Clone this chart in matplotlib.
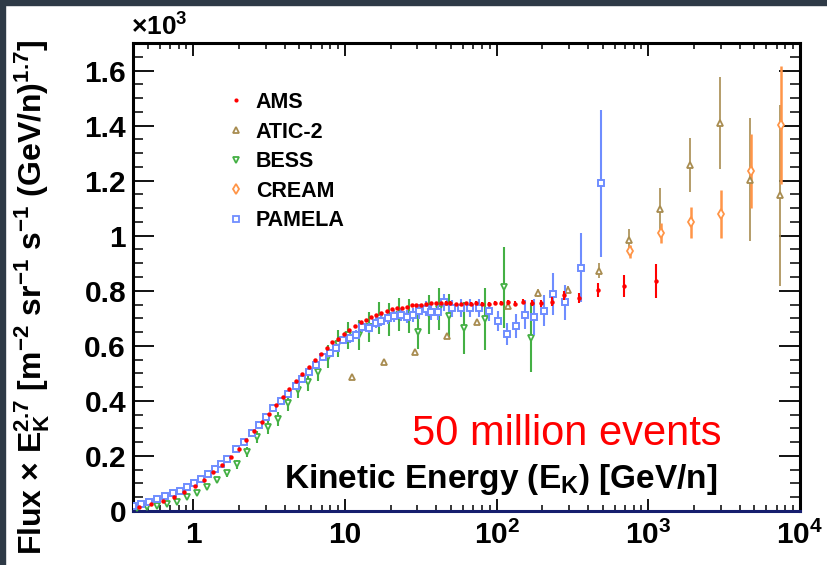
import numpy as np
import matplotlib
matplotlib.use("Agg")
import matplotlib.pyplot as plt
from matplotlib.lines import Line2D
from matplotlib.patches import Rectangle
from matplotlib.ticker import FixedLocator, LogLocator, MultipleLocator, NullFormatter

plt.rcParams['font.family'] = ['Liberation Sans', 'DejaVu Sans']
plt.rcParams['mathtext.fontset'] = 'custom'
plt.rcParams['mathtext.rm'] = 'Liberation Sans:bold'
plt.rcParams['mathtext.it'] = 'Liberation Sans:bold'
plt.rcParams['mathtext.bf'] = 'Liberation Sans:bold'
plt.rcParams['mathtext.sf'] = 'Liberation Sans:bold'

# Kinetic energy [GeV/n], flux x E^2.7 and errors
ams_e = [0.437, 0.527, 0.628, 0.742, 0.869, 1.02, 1.18, 1.35, 1.55, 1.76,
         2.01, 2.24, 2.53, 2.84, 3.16, 3.53, 3.89, 4.30, 4.78, 5.24,
         5.77, 6.32, 6.95, 7.58, 8.25, 8.99, 9.85, 10.7, 11.6, 12.7,
         13.7, 14.9, 16.1, 17.4, 18.9, 20.3, 21.9, 23.6, 25.5, 27.5,
         29.5, 31.8, 34.3, 37.0, 39.7, 42.8, 46.0, 49.6, 53.7, 58.0,
         62.5, 67.5, 73.5, 80.0, 88.6, 97.0, 106, 118, 132, 149,
         170, 197, 232, 280, 350, 464, 688, 1124]
ams_f = [14.5, 24.4, 36.4, 50.9, 69.1, 90.9, 112.7, 140.7, 166.2, 196.4,
         226.5, 257.1, 290.9, 322.5, 352.7, 384.4, 415.6, 444.7, 472.7, 499.3,
         523.6, 548.0, 570.9, 592.7, 613.5, 626.5, 643.6, 657.1, 672.7, 686.2,
         694.5, 702.9, 711.6, 720.0, 724.7, 732.0, 737.1, 738.2, 741.8, 748.0,
         748.0, 748.0, 752.7, 753.8, 755.3, 755.3, 756.4, 756.4, 751.6, 751.6,
         755.3, 752.7, 755.3, 751.6, 751.6, 755.3, 755.3, 757.5, 753.5, 759.3,
         755.3, 753.8, 760.0, 782.9, 774.5, 803.6, 818.2, 835.3]
ams_err = [2, 2, 2, 2, 2, 2, 2, 3, 3, 3,
           3, 3, 3, 3, 3, 3, 3, 3, 3, 3,
           3, 3, 3, 3, 3, 3, 3, 3, 3, 3,
           3, 3, 3, 3, 3, 3, 3, 3, 3, 4,
           4, 4, 4, 4, 4, 5, 5, 5, 5, 5,
           5, 6, 6, 6, 6, 7, 7, 8, 8, 9,
           10, 11, 16, 15, 18, 25, 40, 63]

atic_e = [11.1, 18.1, 29.0, 46.7, 74.2, 119, 187, 295, 471, 746, 1187, 1880, 2963, 4710, 7417]
atic_f = [488, 543, 579, 636, 687, 746, 791, 804, 873, 986, 1097, 1258, 1410, 1204, 1147]
atic_err = [6, 7, 8, 9, 10, 12, 15, 12, 28, 40, 78, 98, 168, 224, 329]

bess_e = [0.424, 0.493, 0.577, 0.671, 0.782, 0.913, 1.062, 1.236, 1.438, 1.674,
          1.948, 2.273, 2.637, 3.083, 3.61, 4.20, 4.91, 5.71, 6.64, 7.77,
          9.04, 10.5, 12.3, 14.3, 16.7, 19.5, 22.7, 26.4, 30.5, 35.7,
          41.5, 48.3, 60.7, 83.4, 112, 169]
bess_f = [9.1, 14.5, 18.9, 24.4, 34.5, 49.1, 63.6, 88.4, 112.7, 136.4,
          169.1, 214.5, 267.3, 304.7, 334.5, 392.7, 440.0, 469.8, 506.5, 560.0,
          608.4, 638.2, 639.3, 667.3, 700.0, 696.4, 712.7, 709.1, 649.1, 714.5,
          732.7, 708.0, 664.4, 696.4, 812.0, 630.2]
bess_err = [3, 3, 3, 3, 4, 5, 6, 8, 10, 12,
            15, 18, 22, 25, 25, 28, 30, 33, 36, 42,
            50, 50, 55, 55, 58, 60, 60, 62, 62, 70,
            76, 80, 94, 112, 148, 125]

cream_e = [758, 1205, 1910, 3035, 4786, 7534]
cream_f = [944, 1010, 1048, 1079, 1234, 1401]
cream_err = [24, 35, 55, 87, 135, 214]

pamela_e = [0.403, 0.455, 0.513, 0.580, 0.651, 0.731, 0.818, 0.913, 1.015, 1.129,
            1.249, 1.381, 1.521, 1.666, 1.910, 2.143, 2.419, 2.705, 3.031, 3.371,
            3.794, 4.236, 4.740, 5.236, 5.80, 6.45, 7.16, 7.93, 8.73, 9.70,
            10.74, 11.87, 12.99, 14.38, 15.92, 17.39, 19.13, 21.0, 23.35, 25.57,
            28.0, 30.8, 33.95, 36.96, 40.9, 44.8, 50.8, 58.0, 66.4, 76.9,
            88.6, 102.3, 116.9, 134.8, 154.5, 177.0, 203.8, 233.5, 281, 361,
            488]
pamela_f = [18.2, 25.5, 32.7, 43.6, 54.5, 64.4, 73.8, 88.4, 102.9, 116.4,
            133.5, 151.6, 170.9, 190.2, 225.5, 252.0, 282.5, 311.6, 341.1, 372.7,
            398.9, 425.5, 454.5, 480.0, 505.5, 529.8, 558.9, 574.5, 592.7, 621.8,
            628.0, 640.0, 668.0, 664.4, 684.7, 691.6, 699.6, 709.1, 712.7, 706.5,
            712.7, 724.7, 734.5, 721.1, 721.1, 757.5, 737.1, 737.1, 737.1, 737.1,
            724.7, 690.9, 644.7, 672.0, 713.5, 704.7, 728.0, 787.6, 757.5, 883.3,
            1190.2]
pamela_err = [3, 3, 3, 3, 3, 3, 3, 4, 4, 4,
              5, 5, 5, 5, 6, 6, 7, 7, 8, 8,
              9, 9, 10, 10, 11, 12, 13, 14, 14, 15,
              16, 17, 18, 19, 20, 21, 22, 22, 23, 24,
              25, 26, 27, 28, 29, 30, 31, 32, 33, 34,
              35, 36, 40, 42, 52, 64, 55, 76, 64, 125,
              267]

y_ticks = [0, 0.2, 0.4, 0.6, 0.8, 1.0, 1.2, 1.4, 1.6]
y_ticklabels = ['0', '0.2', '0.4', '0.6', '0.8', '1', '1.2', '1.4', '1.6']
x_ticks = [1, 10, 100, 1000, 10000]
x_ticklabels = ['1', '10', '$10^{2}$', '$10^{3}$', '$10^{4}$']

c_ams = '#ff0000'
c_atic = '#a88c50'
c_bess = '#44b044'
c_cream = '#ff9548'
c_pamela = '#6f8dff'

W, H = 828, 565
fig = plt.figure(figsize=(W / 100, H / 100), dpi=100, facecolor='white')
ax = fig.add_axes([133 / W, 1 - 511 / H, (800 - 133) / W, (511 - 43) / H])

def k(v):
    return np.array(v) / 1000.0

ax.errorbar(atic_e, k(atic_f), yerr=k(atic_err), fmt='^', ms=4.5, mfc='white',
            mec=c_atic, mew=1.3, ecolor=c_atic, elinewidth=1.2, capsize=0, zorder=3)
ax.errorbar(bess_e, k(bess_f), yerr=k(bess_err), fmt='v', ms=5, mfc='white',
            mec=c_bess, mew=1.3, ecolor=c_bess, elinewidth=1.5, capsize=0, zorder=3)
ax.errorbar(cream_e, k(cream_f), yerr=k(cream_err), fmt='d', ms=5, mfc='white',
            mec=c_cream, mew=1.3, ecolor=c_cream, elinewidth=1.8, capsize=0, zorder=3)
ax.errorbar(pamela_e, k(pamela_f), yerr=k(pamela_err), fmt='s', ms=5, mfc='white',
            mec=c_pamela, mew=1.4, ecolor=c_pamela, elinewidth=1.5, capsize=0, zorder=4)
ax.errorbar(ams_e, k(ams_f), yerr=k(ams_err), fmt='o', ms=3.2, mfc=c_ams,
            mec=c_ams, mew=0, ecolor=c_ams, elinewidth=1.5, capsize=0, zorder=5)

ax.set_xscale('log')
ax.set_xlim(0.4, 1e4)
ax.set_ylim(0, 1.7)

ax.xaxis.set_major_locator(FixedLocator(x_ticks))
ax.set_xticklabels(x_ticklabels)
ax.xaxis.set_minor_locator(LogLocator(base=10, subs=np.arange(2, 10)))
ax.xaxis.set_minor_formatter(NullFormatter())
ax.yaxis.set_major_locator(FixedLocator(y_ticks))
ax.set_yticklabels(y_ticklabels)
ax.yaxis.set_minor_locator(MultipleLocator(0.05))

ax.tick_params(axis='both', which='both', direction='in', top=True, right=True)
ax.tick_params(axis='x', which='major', length=9, width=1.3, pad=7, labelsize=21.5)
ax.tick_params(axis='x', which='minor', length=4.5, width=1.1)
ax.tick_params(axis='y', which='major', length=15, width=1.3, pad=5, labelsize=21.5)
ax.tick_params(axis='y', which='minor', length=7.5, width=1.1)
for lab in ax.get_xticklabels() + ax.get_yticklabels():
    lab.set_fontweight('bold')

for side in ['left', 'right', 'top', 'bottom']:
    ax.spines[side].set_linewidth(2.2)
ax.spines['bottom'].set_color('#161e6e')

# axis titles and annotations
fig.text(32 / W, 1 - 297 / H,
         'Flux × E$_{K}^{2.7}$ [m$^{-2}$ sr$^{-1}$ s$^{-1}$ (GeV/n)$^{1.7}$]',
         rotation=90, ha='center', va='center', fontsize=23, fontweight='bold')
fig.text(717 / W, 1 - 488 / H, 'Kinetic Energy (E$_{K}$) [GeV/n]',
         ha='right', va='baseline', fontsize=24, fontweight='bold')
fig.text(722 / W, 1 - 445 / H, '50 million events', ha='right', va='baseline',
         fontsize=30, color='#ff0000')
fig.text(131 / W, 1 - 36 / H, '×10$^{3}$', ha='left', va='baseline',
         fontsize=19, fontweight='bold')

handles = [
    Line2D([], [], ls='none', marker='o', ms=3, mfc=c_ams, mec=c_ams, mew=0),
    Line2D([], [], ls='none', marker='^', ms=4.5, mfc='white', mec=c_atic, mew=1.3),
    Line2D([], [], ls='none', marker='v', ms=4.5, mfc='white', mec=c_bess, mew=1.3),
    Line2D([], [], ls='none', marker='d', ms=5, mfc='white', mec=c_cream, mew=1.3),
    Line2D([], [], ls='none', marker='s', ms=4.5, mfc='white', mec=c_pamela, mew=1.3),
]
labels = ['AMS', 'ATIC-2', 'BESS', 'CREAM', 'PAMELA']
ax.legend(handles, labels, loc='upper left', bbox_to_anchor=(230 / W, 1 - 92 / H),
          bbox_transform=fig.transFigure, frameon=False, handlelength=0.6,
          handletextpad=0.6, labelspacing=0.40, borderpad=0, borderaxespad=0,
          prop={'weight': 'bold', 'size': 15.5})

# dark frame strips around the screenshot
fig.add_artist(Rectangle((0, 1 - 5 / H), 1, 5 / H, transform=fig.transFigure,
                         color='#2e3a46', zorder=10))
fig.add_artist(Rectangle((0, 0), 5 / W, 1, transform=fig.transFigure,
                         color='#2e3a46', zorder=10))

fig.savefig('out.png', dpi=100)
